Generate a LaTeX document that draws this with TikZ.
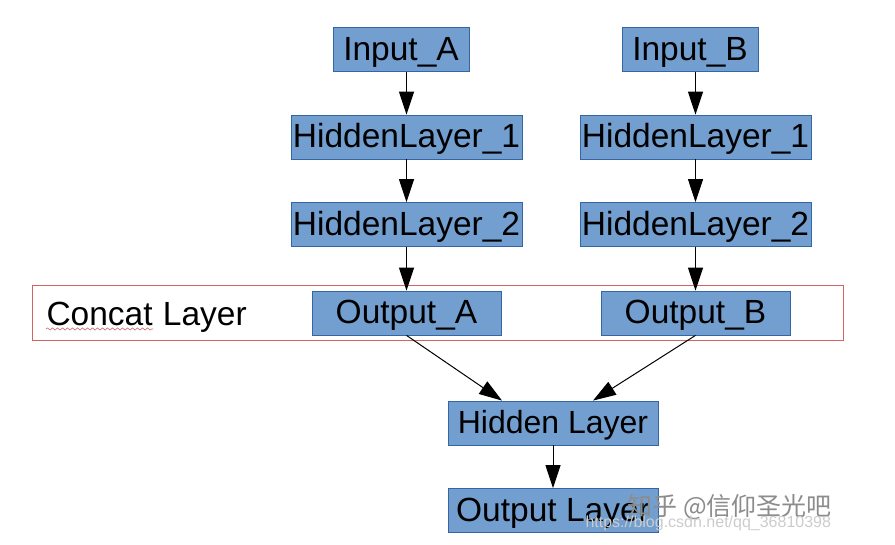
\documentclass[tikz,border=0pt]{standalone}
\usepackage{fontspec}
\setmainfont{Liberation Sans}
\newfontfamily\cjk{Noto Sans CJK SC}
\usetikzlibrary{arrows.meta,decorations.pathmorphing}
\definecolor{boxfill}{HTML}{729FCF}
\definecolor{boxline}{HTML}{3465A4}
\definecolor{concatred}{HTML}{D06464}

\begin{document}
\begin{tikzpicture}
            [x=1pt, y=-1pt, >={Triangle[length=23pt,width=15pt]}, line width=1pt,
             bigfont/.style={font=\fontsize{33.5}{40}\selectfont},
             layer/.style={shape=rectangle, draw=boxline, line width=0.8pt, fill=boxfill, minimum height=44pt, inner sep=0pt,
                           text height=29pt, text depth=7pt, bigfont}]
            \useasboundingbox (0,0) rectangle (895,545);

            % concat frame
            \node[draw=concatred, minimum width=811pt, minimum height=55pt] (concat) at (437.5,313) {};
            \node[bigfont, inner sep=0pt, anchor=base west] (cword) at (46,326) {Concat};
            \node[bigfont, inner sep=0pt, anchor=base west, xshift=9.3pt] (lword) at (cword.base east) {Layer};
            \draw[concatred, line width=0.6pt, decorate, decoration={snake, segment length=5pt, amplitude=1.1pt}]
                ([yshift=-3pt]cword.base west) -- ([yshift=-3pt]cword.base east);

            \node[layer, minimum width=136pt] (ina) at (401, 49.5) {Input\_A};
            \node[layer, minimum width=231pt] (h1a) at (406.5, 137) {HiddenLayer\_1};
            \node[layer, minimum width=231pt] (h2a) at (406.5, 224.5) {HiddenLayer\_2};
            \node[layer, minimum width=189pt] (outa) at (406.5, 313) {Output\_A};

            \node[layer, minimum width=136pt] (inb) at (690, 49.5) {Input\_B};
            \node[layer, minimum width=231pt] (h1b) at (695.5, 137) {HiddenLayer\_1};
            \node[layer, minimum width=231pt] (h2b) at (695.5, 224.5) {HiddenLayer\_2};
            \node[layer, minimum width=189pt] (outb) at (695.5, 313) {Output\_B};

            \node[layer, minimum width=210pt, font=\fontsize{32}{38}\selectfont] (hid) at (553, 423) {Hidden Layer};
            \node[layer, minimum width=210pt] (outl) at (553, 510.5) {Output Layer};

            \draw [->] (ina.south -| h1a) -- (h1a);
            \draw [->] (h1a) -- (h2a);
            \draw [->] (h2a) -- (outa);
            \draw [->] (inb.south -| h1b) -- (h1b);
            \draw [->] (h1b) -- (h2b);
            \draw [->] (h2b) -- (outb);
            \draw [->] (outa.south) -- ([xshift=-51pt]hid.north);
            \draw [->] (outb.south) -- ([xshift=40pt]hid.north);
            \draw [->] (hid) -- (outl);

            % watermark
            \node[text=black!45, font=\cjk\fontsize{25}{30}\selectfont, anchor=west, inner sep=0pt] (zhihu) at (627, 507) {知乎 @信仰圣光吧};
            \node[text=black!20, font=\fontsize{16}{19}\selectfont, anchor=west, inner sep=0pt] (csdn) at (585, 523) {https://blog.csdn.net/qq\_36810398};
        \end{tikzpicture}
\end{document}
